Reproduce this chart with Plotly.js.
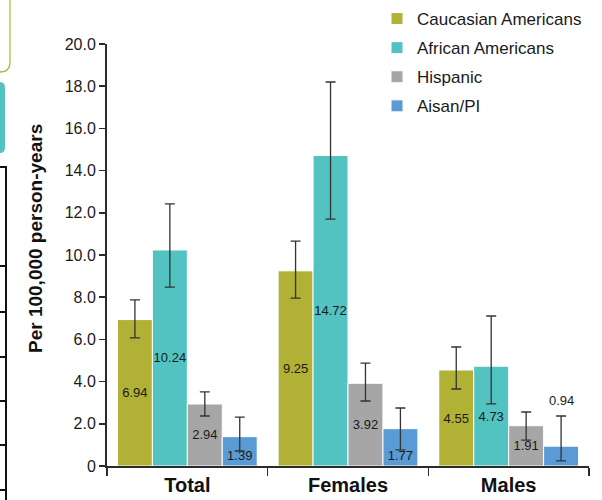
<!DOCTYPE html>
<html>
<head>
<meta charset="utf-8">
<script src="https://cdn.plot.ly/plotly-3.0.1.min.js"></script>
<style>
  html, body { margin: 0; padding: 0; background: #fff; }
  #chart { width: 602px; height: 500px; }
</style>
</head>
<body>
<div id="chart"></div>
<script>
// ---- data ----
const categories = ['Total', 'Females', 'Males'];
const seriesNames = ['Caucasian Americans', 'African Americans', 'Hispanic', 'Aisan/PI'];

const caucasian    = [6.94, 9.25, 4.55];
const caucasianHi  = [7.87, 10.66, 5.64];
const caucasianLo  = [6.07, 7.96, 3.65];

const african      = [10.24, 14.72, 4.73];
const africanHi    = [12.42, 18.20, 7.11];
const africanLo    = [8.48, 11.70, 2.94];

const hispanic     = [2.94, 3.92, 1.91];
const hispanicHi   = [3.51, 4.88, 2.56];
const hispanicLo   = [2.37, 3.08, 1.23];

const asian        = [1.39, 1.77, 0.94];
const asianHi      = [2.32, 2.75, 2.37];
const asianLo      = [0.71, 0.76, 0.24];

const yTickVals  = [0, 2, 4, 6, 8, 10, 12, 14, 16, 18, 20];
const yTickText  = ['0', '2.0', '4.0', '6.0', '8.0', '10.0', '12.0', '14.0', '16.0', '18.0', '20.0'];
const yTitle = 'Per 100,000 person-years';

// ---- styling ----
const colors = ['#b1b135', '#52c3c1', '#a6a6a6', '#5a9bd6'];
const FONT = 'Liberation Sans, Arial, Helvetica, sans-serif';
const TXT = '#1a1a1a';

function diff(a, b) { return a.map((v, i) => v - b[i]); }

function barTrace(name, vals, hi, lo, color, textpos, anchor) {
  return {
    type: 'bar',
    name: name,
    legendgroup: name,
    x: categories,
    y: vals,
    text: vals.map(v => v.toFixed(2)),
    textposition: textpos,
    insidetextanchor: anchor,
    textangle: 0,
    constraintext: 'none',
    cliponaxis: false,
    textfont: { family: FONT, size: 13, color: TXT },
    marker: { color: color, line: { color: '#ffffff', width: 1 } },
    error_y: {
      type: 'data', symmetric: false,
      array: diff(hi, vals), arrayminus: diff(vals, lo),
      color: '#333333', thickness: 1.3, width: 5
    },
    hoverinfo: 'skip'
  };
}

const traces = [
  barTrace(seriesNames[0], caucasian, caucasianHi, caucasianLo, colors[0], 'inside', 'middle'),
  barTrace(seriesNames[1], african, africanHi, africanLo, colors[1], 'inside', 'middle'),
  barTrace(seriesNames[2], hispanic, hispanicHi, hispanicLo, colors[2], 'inside', 'middle'),
  barTrace(seriesNames[3], asian, asianHi, asianLo, colors[3], ['inside', 'inside', 'none'], 'start')
];

// plot geometry (pixels)
const W = 602, H = 500;
const M = { l: 107, r: 13, t: 44, b: 34, autoexpand: false };
const plotW = W - M.l - M.r, plotH = H - M.t - M.b;
const bargap = 0.13;
const px2x = px => (px - M.l) / plotW;
const py2y = py => (H - M.b - py) / plotH;

// offset of the 4th bar within its group, in pixels
const catW = plotW / categories.length;
const barW = catW * (1 - bargap) / seriesNames.length;
const asianShift = 1.5 * barW;

// decorative fragments at left edge (cropped neighbouring panels)
const shapes = [];
shapes.push({
  type: 'path', xref: 'paper', yref: 'paper',
  path: `M ${px2x(10)},${py2y(-2)} L ${px2x(10)},${py2y(62)} Q ${px2x(10)},${py2y(72)} ${px2x(0)},${py2y(72)} L ${px2x(-5)},${py2y(72)}`,
  line: { color: '#b8b83c', width: 1.3 }
});
shapes.push({
  type: 'path', xref: 'paper', yref: 'paper',
  path: `M ${px2x(-5)},${py2y(82)} L ${px2x(0)},${py2y(82)} Q ${px2x(5)},${py2y(82)} ${px2x(5)},${py2y(88)} L ${px2x(5)},${py2y(147)} Q ${px2x(5)},${py2y(153)} ${px2x(0)},${py2y(153)} L ${px2x(-5)},${py2y(153)} Z`,
  fillcolor: '#52c3c1', line: { width: 0 }
});
shapes.push({
  type: 'line', xref: 'paper', yref: 'paper',
  x0: px2x(6), x1: px2x(6), y0: py2y(167), y1: py2y(502),
  line: { color: '#111', width: 2 }
});
[167, 266, 312, 357, 401, 445, 490].forEach(py => {
  shapes.push({
    type: 'line', xref: 'paper', yref: 'paper',
    x0: px2x(-2), x1: px2x(7), y0: py2y(py), y1: py2y(py),
    line: { color: '#111', width: 2 }
  });
});

const layout = {
  width: W, height: H,
  margin: M,
  paper_bgcolor: '#ffffff',
  plot_bgcolor: '#ffffff',
  font: { family: FONT, color: TXT },
  barmode: 'group',
  bargap: bargap,
  bargroupgap: 0,
  showlegend: true,
  legend: {
    x: px2x(377), y: py2y(1), xanchor: 'left', yanchor: 'top',
    font: { family: FONT, size: 17, color: TXT },
    traceorder: 'grouped',
    tracegroupgap: 4,
    bgcolor: 'rgba(0,0,0,0)'
  },
  xaxis: {
    type: 'category',
    range: [-0.5, 2.5],
    showline: true, linecolor: '#2b2b2b', linewidth: 2,
    ticks: 'outside', tickson: 'boundaries', ticklen: 8, tickwidth: 1.5, tickcolor: '#2b2b2b',
    tickfont: { family: FONT, size: 20, color: '#111', weight: 'bold' },
    showgrid: false, zeroline: false, automargin: false
  },
  yaxis: {
    range: [0, 20],
    tickmode: 'array', tickvals: yTickVals, ticktext: yTickText,
    showline: true, linecolor: '#2b2b2b', linewidth: 2,
    ticks: 'outside', ticklen: 6, tickwidth: 1.5, tickcolor: '#2b2b2b',
    tickfont: { family: FONT, size: 16, color: TXT },
    showgrid: false, zeroline: false, automargin: false
  },
  annotations: [
    {
      x: categories[2], y: asianHi[2], xref: 'x', yref: 'y',
      text: asian[2].toFixed(2),
      showarrow: false, xanchor: 'center', yanchor: 'bottom',
      xshift: asianShift, yshift: 6,
      font: { family: FONT, size: 13, color: TXT }
    },
    {
      x: px2x(35), y: py2y(239), xref: 'paper', yref: 'paper',
      text: yTitle, textangle: -90, showarrow: false,
      xanchor: 'center', yanchor: 'middle',
      font: { family: FONT, size: 19, color: '#111', weight: 'bold' }
    }
  ],
  shapes: shapes
};

Plotly.newPlot('chart', traces, layout, { displayModeBar: false, staticPlot: true });
</script>
</body>
</html>
